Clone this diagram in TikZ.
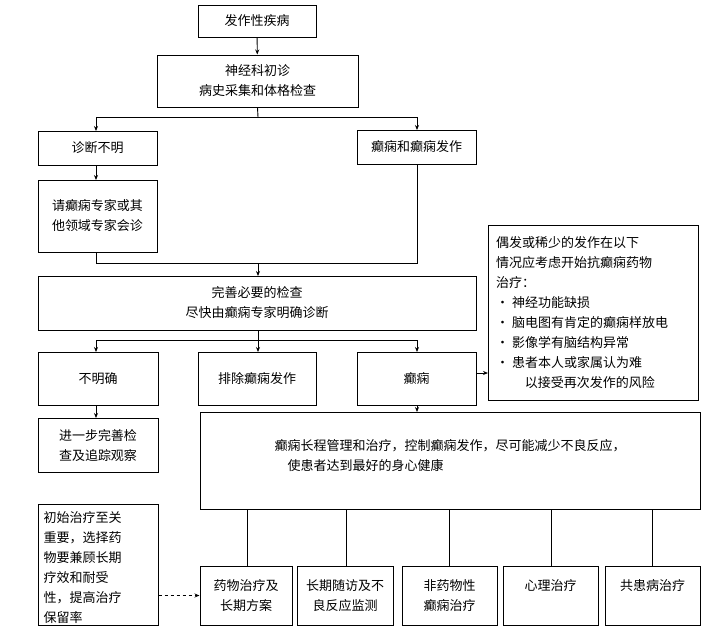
\documentclass[tikz,border=0pt]{standalone}
\usepackage{fontspec}
\setmainfont{Noto Sans CJK SC}
\usetikzlibrary{arrows.meta}
\tikzset{
  box/.style={draw, line width=1pt, inner sep=2pt, align=center, font=\fontsize{13}{20}\selectfont},
  conn/.style={line width=0.9pt},
  arr/.style={conn, -{Stealth[length=5pt,width=4pt]}},
}
\newcommand{\bx}[6]{\node[box, minimum width=#4-#2, minimum height=#5-#3] (#1) at ({(#2+#4)/2},{(#3+#5)/2}) {#6};}
\begin{document}
\begin{tikzpicture}[x=1pt,y=-1pt]
\useasboundingbox (0,0) rectangle (726,641);
\bx{a}{198}{5}{316}{37}{发作性疾病}
\bx{b}{157}{55}{358}{107}{神经科初诊\\病史采集和体格检查}
\bx{c}{38}{131}{157}{165}{诊断不明}
\bx{d}{357}{130}{476}{164}{癫痫和癫痫发作}
\bx{e}{38}{180}{157}{252}{请癫痫专家或其\\他领域专家会诊}
\bx{f}{38}{276}{476}{330}{完善必要的检查\\尽快由癫痫专家明确诊断}
\bx{g}{38}{352}{158}{405}{不明确}
\bx{h}{198}{352}{316}{405}{排除癫痫发作}
\bx{i}{357}{352}{476}{405}{癫痫}
\node[draw, line width=1pt, minimum width=210, minimum height=175, anchor=north west, inner sep=0pt] (s) at (488,225) {};
\node[anchor=north west, align=left, font=\fontsize{13}{20}\selectfont, inner sep=0pt] (st) at (496,236) {偶发或稀少的发作在以下\\情况应考虑开始抗癫痫药物\\治疗：\\• 神经功能缺损\\• 脑电图有肯定的癫痫样放电\\• 影像学有脑结构异常\\• 患者本人或家属认为难\\\hspace*{2.2em}以接受再次发作的风险};
\bx{j}{38}{418}{158}{472}{进一步完善检\\查及追踪观察}
\bx{k}{200}{412}{700}{509}{}
\node[align=left, font=\fontsize{13}{20}\selectfont] (kt) at (450,456) {癫痫长程管理和治疗，控制癫痫发作，尽可能减少不良反应，\\\hspace*{1em}使患者达到最好的身心健康};
\bx{l}{38}{504}{158}{625}{}
\node[align=left, font=\fontsize{13}{20}\selectfont, anchor=north west] (lt) at (40,508) {初始治疗至关\\重要，选择药\\物要兼顾长期\\疗效和耐受\\性，提高治疗\\保留率};
\bx{m1}{200}{566}{292}{625}{药物治疗及\\长期方案}
\bx{m2}{297}{566}{393}{625}{长期随访及不\\良反应监测}
\bx{m3}{402}{566}{497}{625}{非药物性\\癫痫治疗}
\bx{m4}{503}{566}{598}{625}{心理治疗\\\phantom{x}}
\bx{m5}{605}{566}{700}{625}{共患病治疗\\\phantom{x}}
\draw[arr] (a) -- (b);
\coordinate (s1) at (258,117);
\draw[conn] (b.south) -- (s1);
\draw[arr] (96,117) -- (96,131);
\draw[arr] (417,117) -- (417,130);
\draw[conn] (96,117) -- (417,117);
\draw[arr] (c.south -| 96,0) -- (96,180);
\draw[conn] (96,252) -- (96,263) -- (417,263) -- (417,164);
\draw[arr] (258,263) -- (258,276);
\draw[conn] (258,330) -- (258,340);
\draw[conn] (96,340) -- (417,340);
\draw[arr] (96,340) -- (96,352);
\draw[arr] (258,340) -- (258,352);
\draw[arr] (417,340) -- (417,352);
\draw[arr] (96,405) -- (96,418);
\draw[arr] (417,405) -- (417,412);
\draw[arr] (476,373) -- (488,373);
\foreach \x/\n in {247/m1,346/m2,449/m3,551/m4,652/m5} \draw[conn] (\x,509) -- (\x,566);
\draw[arr, dashed] (l.east |- m1) -- (m1.west);
\end{tikzpicture}
\end{document}
